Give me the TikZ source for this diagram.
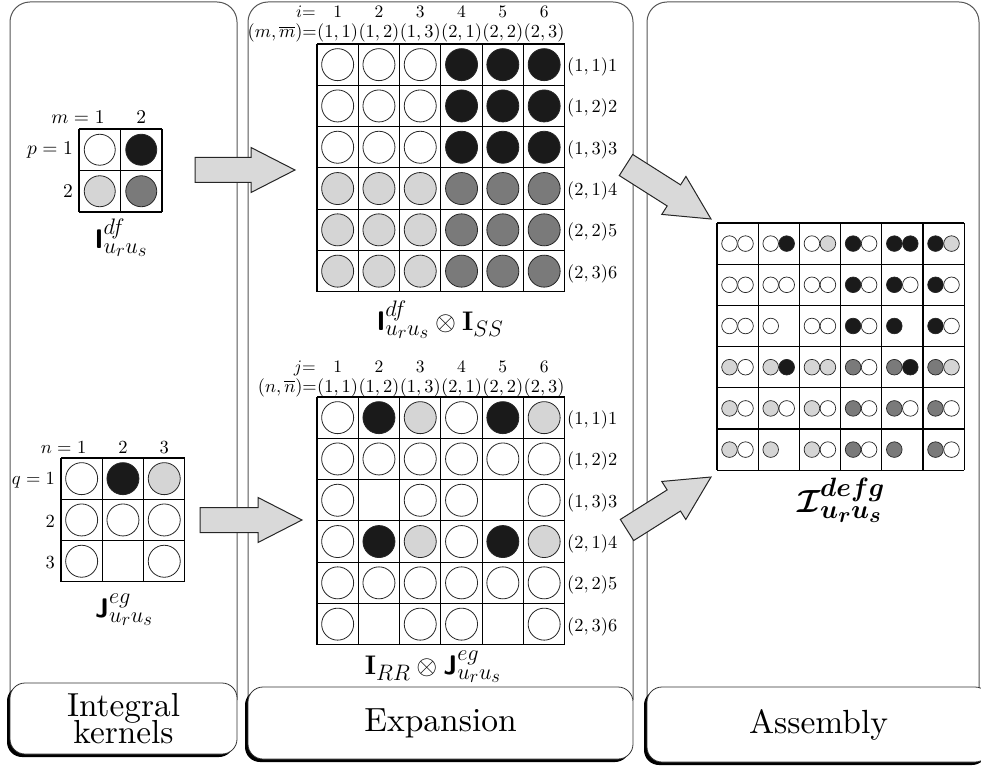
\RequirePackage{fix-cm}
\documentclass[tikz,border=0pt]{standalone}
\usepackage{amsmath,amssymb,bm}
\usetikzlibrary{calc,shadows}

\definecolor{dotblack}{HTML}{1A1A1A}
\definecolor{dotdark}{HTML}{7A7A7A}
\definecolor{dotlight}{HTML}{D5D5D5}
\definecolor{arrowgray}{HTML}{D9D9D9}
\definecolor{panelgray}{HTML}{555555}

\DeclareMathSizes{32}{32}{26.5}{22}
\DeclareMathSizes{26.9}{26.9}{22.4}{18.7}

\newcommand\setfs[2]{\fontsize{#1}{#2}\selectfont}
% 10pt math, enlarged
\newcommand\lbl[1]{\scalebox{1.84}{$#1$}}
\newcommand\hlbl[1]{\scalebox{1.75}{$#1$}}
\newcommand\klbl[1]{\scalebox{1.95}{$#1$}}
\newcommand\jlbl[1]{\scalebox{1.85}{$#1$}}

% grid of square cells: x0, y0, cell size, columns, rows
\newcommand\cellgrid[5]{%
  \foreach \k in {0,...,#4} \draw[gridline] ({#1+\k*#3},#2) -- ({#1+\k*#3},{#2+#5*#3});
  \foreach \k in {0,...,#5} \draw[gridline] (#1,{#2+\k*#3}) -- ({#1+#4*#3},{#2+\k*#3});
}
% one dot per cell: x0, y0, cell size, radius, rows of codes
\newcommand\placedots[5]{%
  \foreach \rowlist [count=\ri] in {#5} {
    \foreach \code [count=\cj] in \rowlist {
      \path[dot\code] ({#1+(\cj-0.5)*#3},{#2+(\ri-0.5)*#3}) circle[radius=#4];
    }
  }
}
% wide block arrow from tail coordinate to tip coordinate
\newcommand\blockarrow[2]{%
  \draw[barrow]
    ($(#1)!12.5pt!90:(#2)$)
    -- ($(#2)!44pt!(#1)!12.5pt!90:(#2)$)
    -- ($(#2)!44pt!(#1)!22.5pt!90:(#2)$)
    -- (#2)
    -- ($(#2)!44pt!(#1)!22.5pt!-90:(#2)$)
    -- ($(#2)!44pt!(#1)!12.5pt!-90:(#2)$)
    -- ($(#1)!12.5pt!-90:(#2)$)
    -- cycle;
}

\begin{document}
\begin{tikzpicture}[x=1pt,y=-1pt,
  panel/.style={draw=panelgray, line width=1pt, rounded corners=20pt},
  stagebox/.style={draw=black!80, line width=0.8pt, fill=white, rounded corners=15pt,
    inner sep=0pt,
    drop shadow={shadow xshift=-3pt, shadow yshift=-3pt, fill=black, opacity=1}},
  gridline/.style={draw=black, line width=1.1pt},
  dotbase/.style={draw=black!85, line width=0.8pt},
  dotW/.style={dotbase, fill=white},
  dotB/.style={dotbase, fill=dotblack},
  dotL/.style={dotbase, fill=dotlight},
  dotD/.style={dotbase, fill=dotdark},
  dotN/.style={draw=none, fill=none},
  lab/.style={inner sep=0pt},
  klab/.style={inner sep=0pt, font=\setfs{26.9}{32}},
  alab/.style={inner sep=0pt, font=\setfs{32}{38}},
  barrow/.style={draw=black!85, line width=1pt, fill=arrowgray, line join=miter},
]
\useasboundingbox (0,0) rectangle (981,767);

% ---- stage panels ----
\draw[panel] (10,700) -- (10,2) -- (237,2) -- (237,700);
\draw[panel] (248,700) -- (248,2) -- (633,2) -- (633,700);
\draw[panel] (647,700) -- (647,2) -- (979,2) -- (979,700);

\node[stagebox, minimum width=227pt, minimum height=71pt] (kernels) at (123.5,718.5)
  {\scalebox{3.33}{\vbox{\baselineskip=8.2pt\lineskiplimit=-10pt\lineskip=0pt
     \halign{\hfil#\hfil\cr Integral\cr kernels\cr}}}};
\node[stagebox, minimum width=385pt, minimum height=72pt] (expansion) at (440.5,723)
  {\scalebox{3.35}{Expansion}};
\node[stagebox, minimum width=343pt, minimum height=75pt] (assembly) at (818.5,724.5)
  {\scalebox{3.35}{Assembly}};

% ---- integral kernel I (2x2) ----
\placedots{79}{129}{41.5}{15.5}{{W,B},{L,D}}
\cellgrid{79}{129}{41.5}{2}{2}
\node[lab, anchor=base] (m1) at (99.75,124) {\klbl{1}};
\node[lab, anchor=base east] (meq) at (m1.base west) {\klbl{m={}}};
\node[lab, anchor=base] (m2) at (141.25,124) {\klbl{2}};
\node[lab, anchor=base east] (p1) at (73,155) {\klbl{p=1}};
\node[lab, anchor=base east] (p2) at (73,198) {\klbl{2}};
\node[klab, anchor=north] (Ikern) at (121,219) {$\textbf{\textsf{I}}^{df}_{u_r u_s}$};

% ---- integral kernel J (3x3) ----
\placedots{61}{458}{41.3}{16}{{W,B,L},{W,W,W},{W,N,W}}
\cellgrid{61}{458}{41.3}{3}{3}
\node[lab, anchor=base] (n1) at (81.65,453) {\jlbl{1}};
\node[lab, anchor=base east] (neq) at (n1.base west) {\jlbl{n={}}};
\node[lab, anchor=base] (n2) at (122.95,453) {\jlbl{2}};
\node[lab, anchor=base] (n3) at (164.25,453) {\jlbl{3}};
\node[lab, anchor=base east] (q1) at (55,484) {\jlbl{q=1}};
\node[lab, anchor=base east] (q2) at (55,527) {\jlbl{2}};
\node[lab, anchor=base east] (q3) at (55,568) {\jlbl{3}};
\node[klab, anchor=north] (Jkern) at (124,594) {$\textbf{\textsf{J}}^{eg}_{u_r u_s}$};

% ---- expanded I (6x6) ----
\placedots{317}{44}{41.3}{16}{{W,W,W,B,B,B},{W,W,W,B,B,B},{W,W,W,B,B,B},{L,L,L,D,D,D},{L,L,L,D,D,D},{L,L,L,D,D,D}}
\cellgrid{317}{44}{41.3}{6}{6}
\node[lab, anchor=base east] (ieq) at (316,18) {\hlbl{i{=}}};
\node[lab, anchor=base east] (mmeq) at (317,38) {\lbl{(m,\overline{m}){=}}};
\foreach \a/\b [count=\k] in {1/1,1/2,1/3,2/1,2/2,2/3} {
  \node[lab, anchor=base] (icol\k) at ({317+(\k-0.5)*41.3},18) {\hlbl{\k}};
  \node[lab, anchor=base] (ipair\k) at ({317+(\k-0.5)*41.3},38) {\lbl{(\a,\b)}};
  \node[lab, anchor=base west] (irow\k) at (567,{44+(\k-0.5)*41.3+7}) {\lbl{(\a,\b)\k}};
}
\node[klab, anchor=north] (Iexp) at (440,301) {$\textbf{\textsf{I}}^{df}_{u_r u_s}\otimes\mathbf{I}_{SS}$};

% ---- expanded J (6x6) ----
\placedots{317}{397}{41.3}{16}{{W,B,L,W,B,L},{W,W,W,W,W,W},{W,N,W,W,N,W},{W,B,L,W,B,L},{W,W,W,W,W,W},{W,N,W,W,N,W}}
\cellgrid{317}{397}{41.3}{6}{6}
\node[lab, anchor=base east] (jeq) at (316,372) {\hlbl{j{=}}};
\node[lab, anchor=base east] (nneq) at (317,392) {\lbl{(n,\overline{n}){=}}};
\foreach \a/\b [count=\k] in {1/1,1/2,1/3,2/1,2/2,2/3} {
  \node[lab, anchor=base] (jcol\k) at ({317+(\k-0.5)*41.3},372) {\hlbl{\k}};
  \node[lab, anchor=base] (jpair\k) at ({317+(\k-0.5)*41.3},392) {\lbl{(\a,\b)}};
  \node[lab, anchor=base west] (jrow\k) at (567,{397+(\k-0.5)*41.3+7}) {\lbl{(\a,\b)\k}};
}
\node[klab, anchor=north] (Jexp) at (433,651) {$\mathbf{I}_{RR}\otimes\textbf{\textsf{J}}^{eg}_{u_r u_s}$};

% ---- assembled tensor (6x6, two dots per cell) ----
\foreach \rowlist [count=\ri] in {
  {W/W,W/B,W/L,B/W,B/B,B/L},
  {W/W,W/W,W/W,B/W,B/W,B/W},
  {W/W,W/N,W/W,B/W,B/N,B/W},
  {L/W,L/B,L/L,D/W,D/B,D/L},
  {L/W,L/W,L/W,D/W,D/W,D/W},
  {L/W,L/N,L/W,D/W,D/N,D/W}} {
  \foreach \ca/\cb [count=\cj] in \rowlist {
    \path[dot\ca, line width=0.7pt] ({717+(\cj-1)*41.2+12.5},{223+(\ri-0.5)*41.2}) circle[radius=7.8];
    \path[dot\cb, line width=0.7pt] ({717+(\cj-1)*41.2+28.5},{223+(\ri-0.5)*41.2}) circle[radius=7.8];
  }
}
\cellgrid{717}{223}{41.2}{6}{6}
\node[alab, anchor=north] (Iasm) at (841,478) {$\boldsymbol{\mathcal{I}}^{\boldsymbol{defg}}_{\boldsymbol{u_r u_s}}$};

% ---- block arrows between stages ----
\coordinate (aIs) at (195,170);  \coordinate (aIe) at (295,170);
\coordinate (aJs) at (200,520);  \coordinate (aJe) at (302,520);
\coordinate (bIs) at (626,165);  \coordinate (bIe) at (711,219);
\coordinate (bJs) at (627,530);  \coordinate (bJe) at (711,477);
\blockarrow{aIs}{aIe}
\blockarrow{aJs}{aJe}
\blockarrow{bIs}{bIe}
\blockarrow{bJs}{bJe}
\end{tikzpicture}
\end{document}
